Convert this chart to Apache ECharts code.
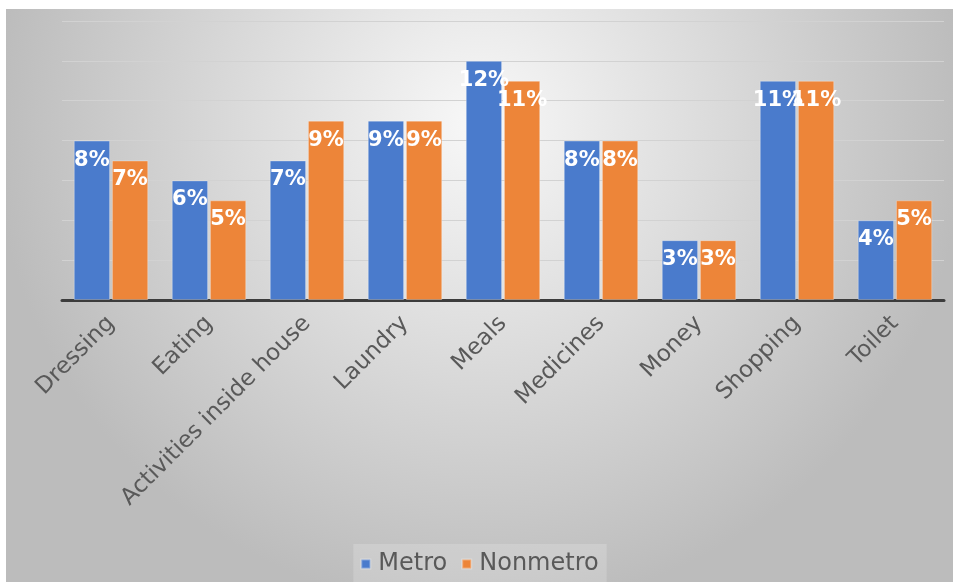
<!DOCTYPE html>
<html>
<head>
<meta charset="utf-8">
<script src="https://cdn.jsdelivr.net/npm/echarts@6/dist/echarts.min.js"></script>
<style>
  html, body { margin: 0; padding: 0; background: #fff; }
  #chart { position: absolute; left: 6px; top: 9px; width: 947px; height: 573px; }
</style>
</head>
<body>
<div id="chart"></div>
<script>
// categories and values (percent)
var categories = ["Dressing", "Eating", "Activities inside house", "Laundry", "Meals", "Medicines", "Money", "Shopping", "Toilet"];
var metro = [8, 6, 7, 9, 12, 8, 3, 11, 4];
var nonmetro = [7, 5, 9, 9, 11, 8, 3, 11, 5];
var seriesNames = ["Metro", "Nonmetro"];

var chart = echarts.init(document.getElementById('chart'));

var barLabel = {
  show: true,
  position: 'insideTop',
  distance: 9,
  color: '#fff',
  fontFamily: 'DejaVu Sans',
  fontWeight: 'bold',
  fontSize: 21,
  formatter: '{c}%'
};

var option = {
  backgroundColor: {
    type: 'radial', x: 0.5, y: 0.2, r: 0.85,
    colorStops: [
      { offset: 0, color: '#f8f8f8' },
      { offset: 1, color: '#bcbcbc' }
    ]
  },
  grid: { left: 56, right: 9, top: 12, bottom: 282 },
  legend: {
    data: seriesNames,
    bottom: -8,
    left: 'center',
    icon: 'rect',
    itemWidth: 9,
    itemHeight: 9,
    itemGap: 14,
    padding: [8, 8, 14, 7],
    backgroundColor: 'rgba(255,255,255,0.18)',
    textStyle: { fontFamily: 'DejaVu Sans', fontSize: 24, color: '#595959', padding: [0, 0, 0, 3] }
  },
  xAxis: {
    type: 'category',
    data: categories,
    axisLine: { lineStyle: { color: '#3c3c3c', width: 3 } },
    axisTick: { show: false },
    axisLabel: {
      interval: 0,
      rotate: 45,
      margin: 20,
      fontFamily: 'DejaVu Sans',
      fontSize: 23,
      color: '#595959'
    }
  },
  yAxis: {
    type: 'value',
    min: 0,
    max: 14,
    interval: 2,
    axisLabel: { show: false },
    axisLine: { show: false },
    axisTick: { show: false },
    splitLine: { lineStyle: { color: '#d2d2d2', width: 1 } }
  },
  series: [
    {
      name: seriesNames[0],
      type: 'bar',
      data: metro,
      barGap: '5%',
      barCategoryGap: '24%',
      itemStyle: { color: '#4a7bcc', borderColor: 'rgba(255,255,255,0.3)', borderWidth: 1 },
      label: barLabel
    },
    {
      name: seriesNames[1],
      type: 'bar',
      data: nonmetro,
      itemStyle: { color: '#ed8539', borderColor: 'rgba(255,255,255,0.3)', borderWidth: 1 },
      label: barLabel
    }
  ]
};

chart.setOption(option);
</script>
</body>
</html>
